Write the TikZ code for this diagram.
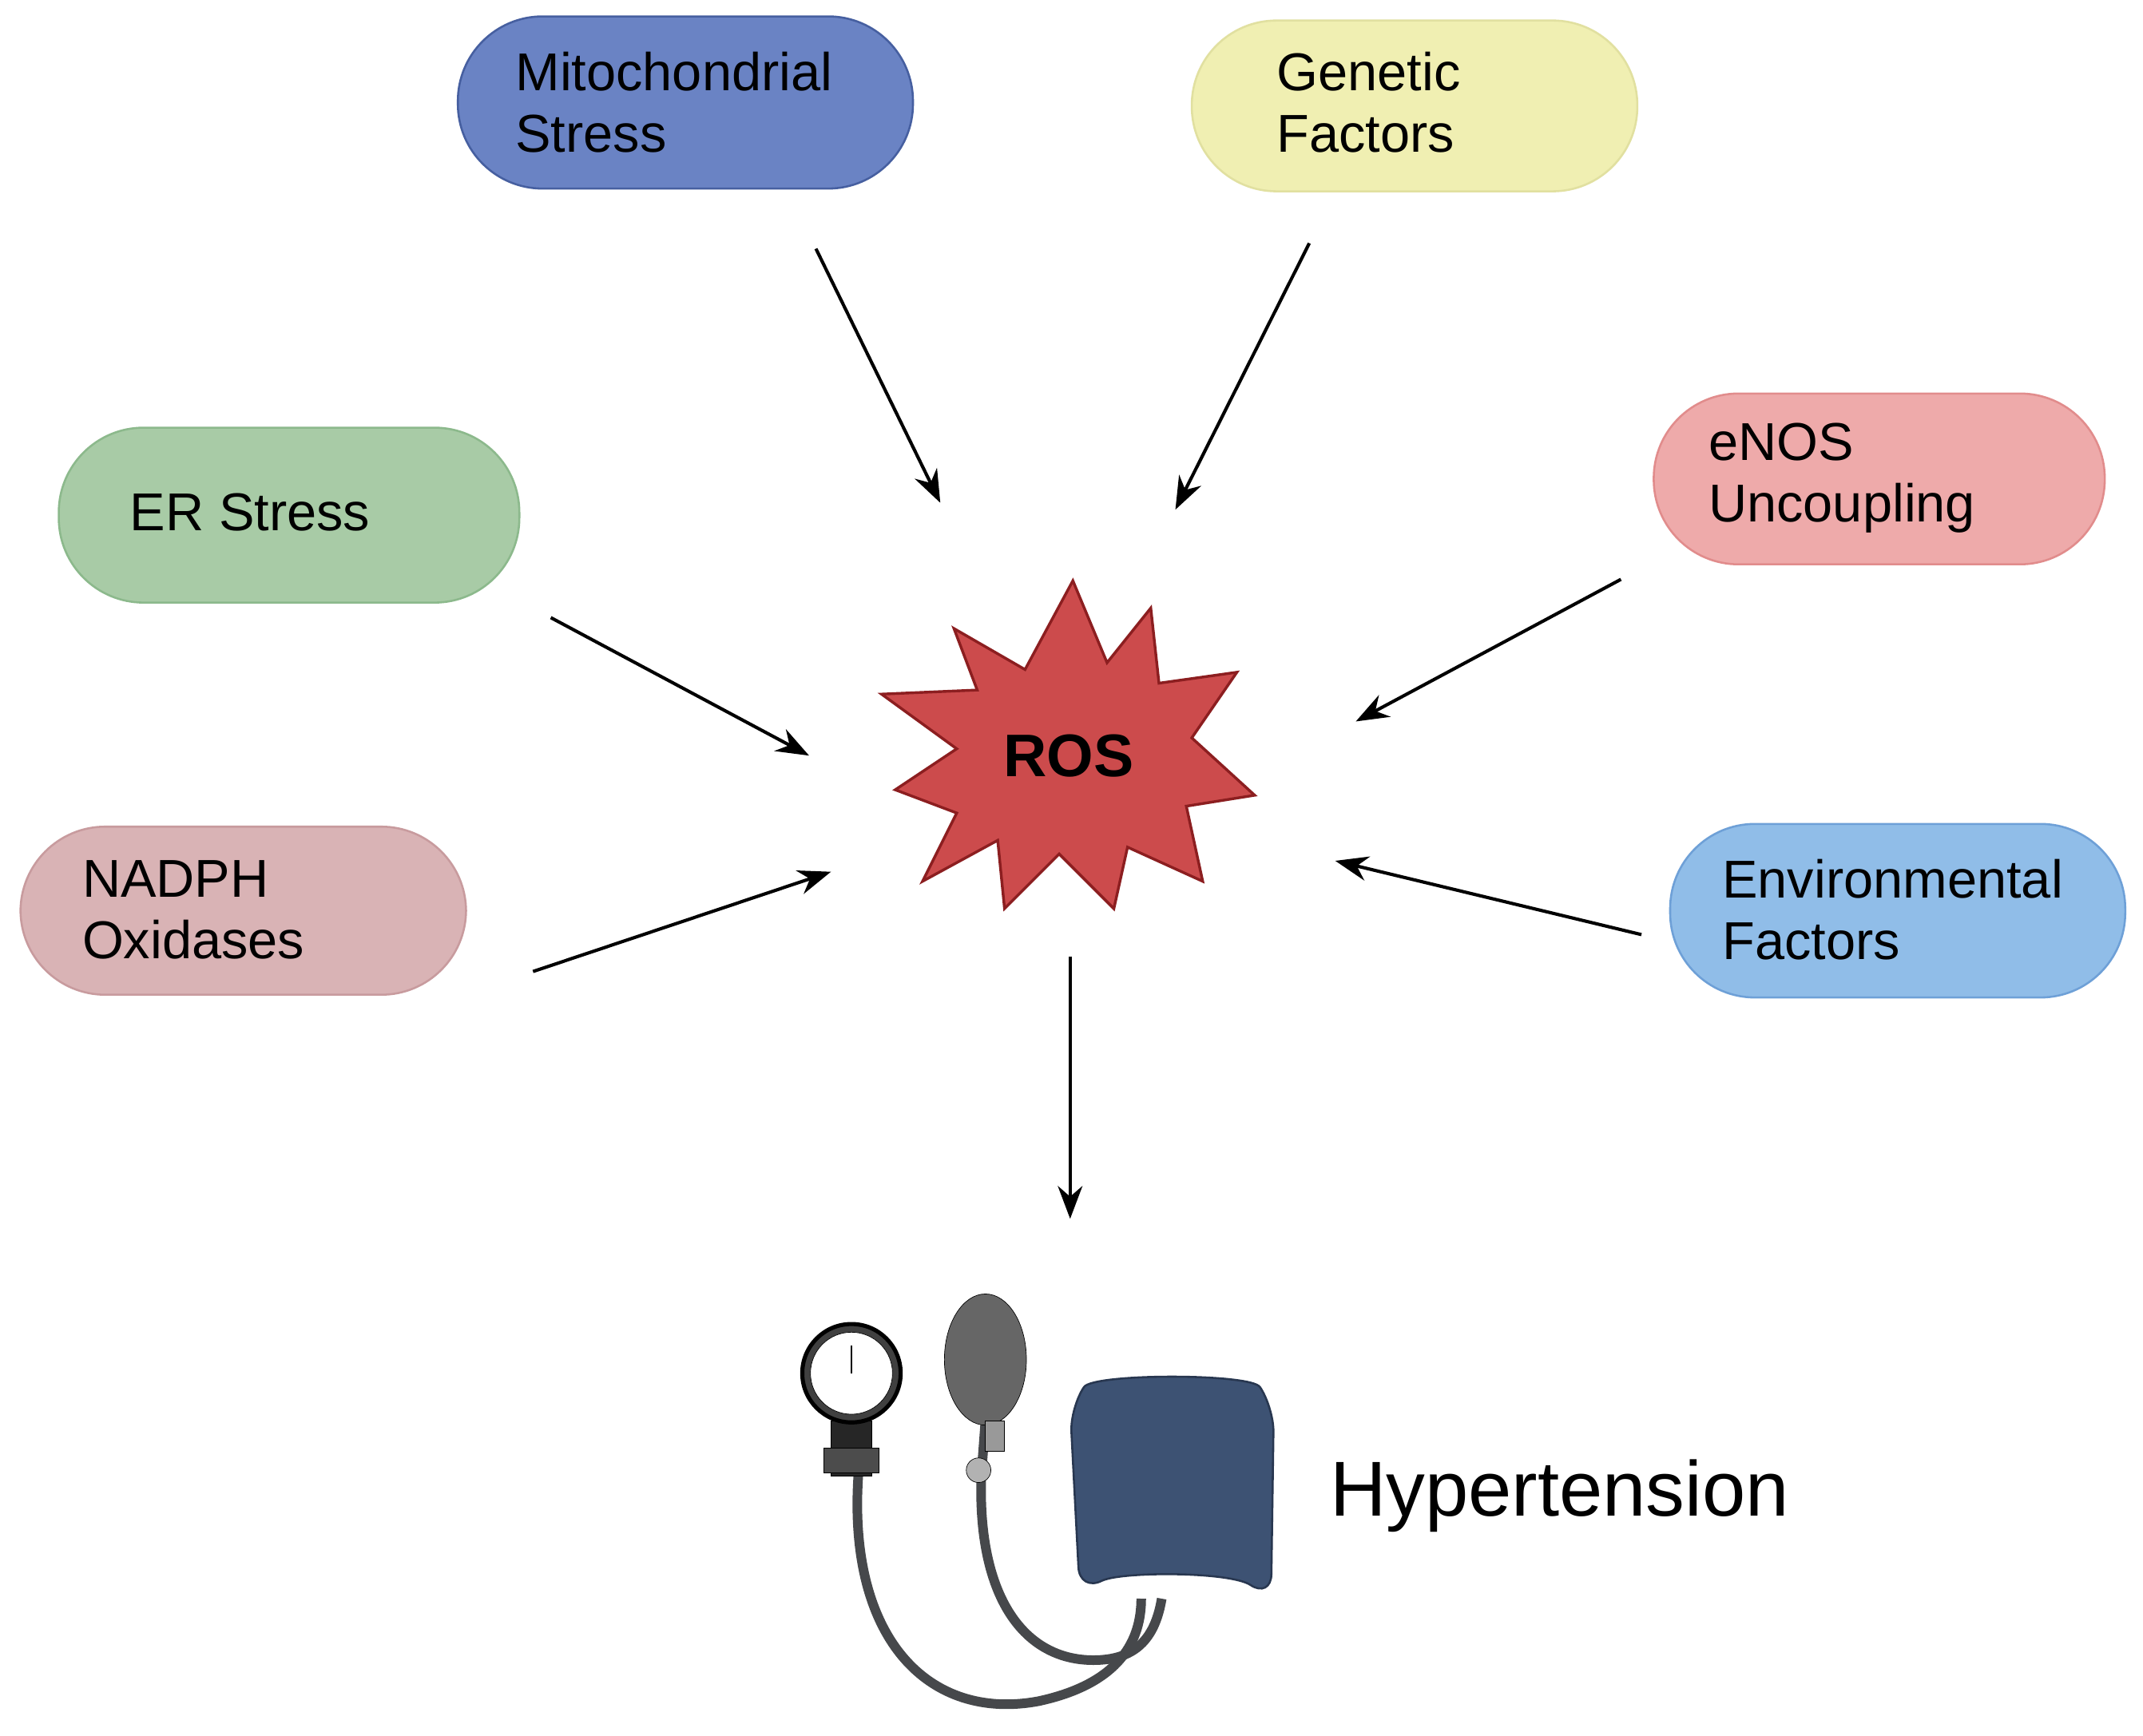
\documentclass[tikz,border=0pt]{standalone}
\usepackage{fontspec}
\setmainfont{Liberation Sans}
\usetikzlibrary{arrows.meta}
\definecolor{tube}{RGB}{70,72,75}
\definecolor{cuff}{RGB}{61,82,115}
\definecolor{cuffd}{RGB}{40,55,80}
\begin{document}
\begin{tikzpicture}[x=1pt,y=-1pt,
 pill/.style={rounded corners=62pt,line width=1.5pt},
 lab/.style={anchor=west,align=left,font=\fontsize{39}{45}\selectfont,inner sep=0},
 arr/.style={line width=2.4pt,-{Stealth[length=24pt,width=18pt]}},
 tubes/.style={line width=7pt,draw=tube}]
\useasboundingbox (0,0) rectangle (1568,1270);
\fill[white] (0,0) rectangle (1568,1270);
% pills
\draw[pill,fill={rgb,255:red,106;green,131;blue,196},draw={rgb,255:red,70;green,95;blue,160}] (335,12) rectangle (668,138);
\node[lab] (mito) at (377,75) {Mitochondrial\\Stress};
\draw[pill,fill={rgb,255:red,240;green,239;blue,178},draw={rgb,255:red,225;green,224;blue,160}] (872,15) rectangle (1198,140);
\node[lab] (gen) at (934,75) {Genetic\\Factors};
\draw[pill,fill={rgb,255:red,168;green,203;blue,166},draw={rgb,255:red,140;green,185;blue,140}] (43,313) rectangle (380,441);
\node[lab] (er) at (95,375) {ER Stress};
\draw[pill,fill={rgb,255:red,238;green,170;blue,170},draw={rgb,255:red,225;green,140;blue,140}] (1210,288) rectangle (1540,413);
\node[lab] (enos) at (1250,350) {eNOS\\Uncoupling};
\draw[pill,fill={rgb,255:red,217;green,179;blue,181},draw={rgb,255:red,200;green,155;blue,158}] (15,605) rectangle (341,728);
\node[lab] (nadph) at (60,666) {NADPH\\Oxidases};
\draw[pill,fill={rgb,255:red,144;green,189;blue,232},draw={rgb,255:red,110;green,160;blue,215}] (1222,603) rectangle (1555,730);
\node[lab] (env) at (1260,666) {Environmental\\Factors};
% star
\draw[line width=2pt,fill={rgb,255:red,204;green,75;blue,76},draw={rgb,255:red,140;green,30;blue,32}]
 (785,425)--(810,485)--(842,445)--(848,500)--(905,492)--(872,540)--(918,582)--(868,590)--(880,645)--(825,620)--(815,665)--(775,625)--(735,665)--(730,615)--(675,645)--(700,595)--(655,578)--(700,548)--(645,508)--(715,505)--(698,460)--(750,490)--cycle;
\node[font=\bfseries\fontsize{44}{48}\selectfont] (ros) at (782,553) {ROS};
% arrows
\coordinate (a1) at (597,182); \coordinate (b1) at (688,368);
\coordinate (a2) at (958,178); \coordinate (b2) at (860,373);
\coordinate (a3) at (403,452); \coordinate (b3) at (592,553);
\coordinate (a4) at (1186,424); \coordinate (b4) at (992,528);
\coordinate (a5) at (390,711); \coordinate (b5) at (608,638);
\coordinate (a6) at (1201,684); \coordinate (b6) at (977,630);
\coordinate (a7) at (783,700); \coordinate (b7) at (783,892);
\foreach \i in {1,...,7} \draw[arr] (a\i)--(b\i);
% sphygmomanometer
\draw[tubes] (628,1080) .. controls (620,1200) and (680,1260) .. (760,1245) .. controls (820,1232) and (835,1200) .. (835,1170);
\draw[tubes] (718,1080) .. controls (715,1170) and (750,1215) .. (800,1215) .. controls (830,1215) and (845,1200) .. (850,1170);
\draw[tubes] (721,1040)--(718,1080);
\draw[fill=black!85] (608,1040) rectangle (638,1080);
\draw[fill=black!70] (603,1060) rectangle (643,1078);
\draw[line width=3pt,fill=black!75] (623,1005) circle (36);
\draw[fill=white] (623,1005) circle (30);
\draw[line width=1.5pt] (623,1005)--(623,985);
\draw[fill=black!60] (721,995) ellipse (30 and 48);
\draw[fill=black!40] (721,1040) rectangle (735,1062);
\draw[fill=black!30] (716,1076) circle (9);
\draw[line width=1.5pt,fill=cuff,draw=cuffd,rounded corners=18pt] (783,1030) .. controls (800,1005) and (915,1005) .. (932,1030) -- (930,1170) .. controls (900,1150) and (820,1150) .. (790,1165) -- cycle;
\node[anchor=west,font=\fontsize{57}{62}\selectfont,inner sep=0] (hyp) at (973,1095) {Hypertension};
\end{tikzpicture}
\end{document}
